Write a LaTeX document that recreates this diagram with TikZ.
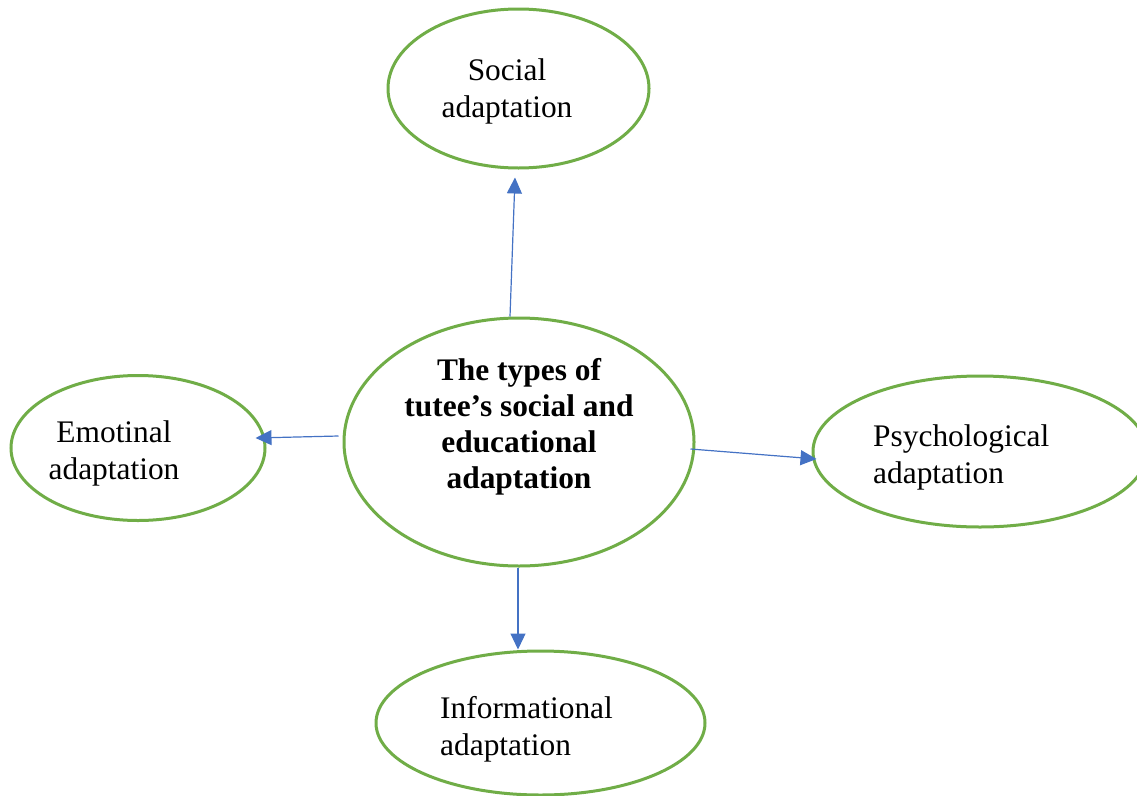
\documentclass[tikz,border=0pt]{standalone}
\usepackage{fontspec}
\setmainfont{Liberation Serif}
\usetikzlibrary{shapes.geometric,arrows.meta,calc}
\definecolor{ovalgreen}{HTML}{70AD47}
\definecolor{linkblue}{HTML}{4472C4}
\begin{document}
\begin{tikzpicture}[x=1pt,y=-1pt,
  oval/.style={ellipse,draw=ovalgreen,line width=3pt,inner sep=0pt,fill=white},
  caption/.style={inner sep=0pt,font=\fontsize{31.4pt}{36.5pt}\selectfont},
  link/.style={draw=linkblue,line width=1.2pt,-{Triangle[length=16pt,width=15pt]}}]
\useasboundingbox (0,0) rectangle (1137,795);

% ovals
\node[oval,minimum width=261pt,minimum height=159pt] (soc) at (518.5,88.5) {};
\node[oval,minimum width=350pt,minimum height=248pt] (ctr) at (519,442) {};
\node[oval,minimum width=254pt,minimum height=145pt] (emo) at (138,448) {};
\node[oval,minimum width=334pt,minimum height=151pt] (psy) at (980,451.5) {};
\node[oval,minimum width=329pt,minimum height=144pt] (inf) at (540.5,723) {};

% captions (the base anchor sits on the last line)
\node[caption,align=center,anchor=base] (socT) at (507,117) {Social\\adaptation};
\node[caption,align=center,anchor=base,font=\fontsize{31.4pt}{36pt}\selectfont\bfseries] (ctrT) at (519,488)
  {The types of\\tutee’s social and\\educational\\adaptation};
\node[caption,align=center,anchor=base] (emoT) at (114,479) {Emotinal\\adaptation};
\node[caption,align=left,anchor=base west] (psyT) at (873,483) {Psychological\\adaptation};
\node[caption,align=left,anchor=base west] (infT) at (440,755) {Informational\\adaptation};

% connectors
\draw[link] ($(ctr.north)+(-9,0)$) -- ($(soc.south)+(-3.5,8)$);
\draw[link] ($(ctr.west)+(-4,-6)$) -- ($(emo.east)+(-11,-10)$);
\draw[link] ($(ctr.east)+(-5,7)$) -- ($(psy.west)+(5,7.5)$);
\draw[link] ($(ctr.south)+(-1,0)$) -- ($(inf.north)+(-22.5,0)$);
\end{tikzpicture}
\end{document}
